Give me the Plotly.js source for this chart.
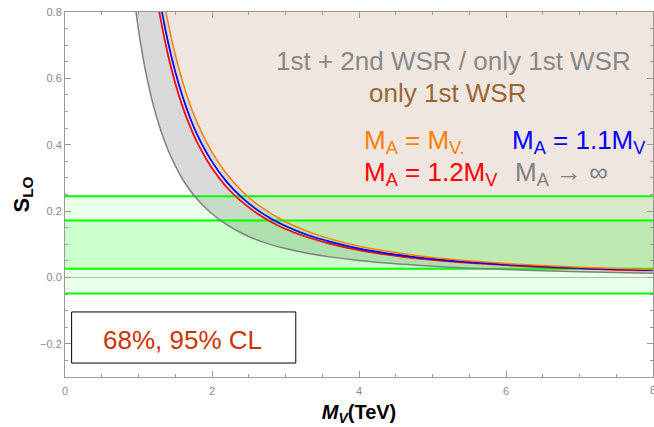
<!DOCTYPE html>
<html>
<head>
<meta charset="utf-8">
<script src="https://cdn.plot.ly/plotly-3.0.1.min.js"></script>
<style>html,body{margin:0;padding:0;background:#fff;}#chart{width:654px;height:427px;}</style>
</head>
<body>
<div id="chart"></div>
<script>
// M_V values (TeV)
const mv = [0.95, 1.0, 1.05, 1.1, 1.2, 1.3, 1.4, 1.5, 1.6, 1.7, 1.8, 2.0, 2.2, 2.4, 2.6, 2.8, 3.0, 3.3, 3.6, 4.0, 4.5, 5.0, 5.5, 6.0, 6.5, 7.0, 7.5, 8.0];
// S_LO bounds
const sInf  = [0.827, 0.746, 0.677, 0.617, 0.520, 0.445, 0.385, 0.337, 0.296, 0.263, 0.236, 0.192, 0.159, 0.134, 0.114, 0.099, 0.087, 0.073, 0.062, 0.051, 0.041, 0.034, 0.028, 0.024, 0.020, 0.017, 0.015, 0.013];
const s12   = [1.459, 1.317, 1.195, 1.088, 0.915, 0.779, 0.672, 0.585, 0.514, 0.456, 0.406, 0.329, 0.272, 0.229, 0.195, 0.168, 0.146, 0.121, 0.102, 0.082, 0.065, 0.053, 0.044, 0.037, 0.031, 0.027, 0.023, 0.021];
const s11   = [1.545, 1.394, 1.264, 1.152, 0.968, 0.825, 0.711, 0.620, 0.545, 0.482, 0.430, 0.349, 0.288, 0.242, 0.206, 0.178, 0.155, 0.128, 0.108, 0.087, 0.069, 0.056, 0.046, 0.039, 0.033, 0.028, 0.025, 0.022];
const s10   = [1.673, 1.510, 1.370, 1.248, 1.049, 0.893, 0.770, 0.671, 0.590, 0.522, 0.466, 0.378, 0.312, 0.262, 0.223, 0.193, 0.168, 0.139, 0.117, 0.094, 0.075, 0.060, 0.050, 0.042, 0.036, 0.031, 0.027, 0.024];
// experimental S bands: 95% CL and 68% CL
const band95 = [-0.048, 0.245];
const band68 = [0.026, 0.172];
const xRange = [0, 8];
const yRange = [-0.3, 0.8];
const xTickVals = [0, 2, 4, 6, 8];

const traces = [];
// beige region: above M_A = M_V curve
traces.push({x: mv.concat([8, 8, 0.95]), y: s10.concat([1.0, 1.0, 1.0]), fill: 'toself', mode: 'none',
  fillcolor: '#efe6e0', hoverinfo: 'skip'});
// gray region: between M_A -> inf and M_A = M_V
traces.push({x: mv.concat(mv.slice().reverse()), y: sInf.concat(s10.slice().reverse()), fill: 'toself', mode: 'none',
  fillcolor: '#d9d9d9', hoverinfo: 'skip'});
// green bands (translucent)
traces.push({x: [0, 8, 8, 0], y: [band95[0], band95[0], band95[1], band95[1]], fill: 'toself', mode: 'none',
  fillcolor: 'rgba(0,255,0,0.09)', hoverinfo: 'skip'});
traces.push({x: [0, 8, 8, 0], y: [band68[0], band68[0], band68[1], band68[1]], fill: 'toself', mode: 'none',
  fillcolor: 'rgba(0,255,0,0.12)', hoverinfo: 'skip'});
// band edges
[band95[0], band95[1], band68[0], band68[1]].forEach(v => {
  traces.push({x: xRange, y: [v, v], mode: 'lines', line: {color: '#00ff00', width: 2}, hoverinfo: 'skip'});
});
// curves
traces.push({x: mv, y: sInf, mode: 'lines', line: {color: '#808080', width: 1.5, shape: 'spline'}});
traces.push({x: mv, y: s12, mode: 'lines', line: {color: '#ff0000', width: 1.7, shape: 'spline'}});
traces.push({x: mv, y: s11, mode: 'lines', line: {color: '#0000ff', width: 1.7, shape: 'spline'}});
traces.push({x: mv, y: s10, mode: 'lines', line: {color: '#ff8000', width: 1.5, shape: 'spline'}});

const F = 'Liberation Sans, Arial, sans-serif';
const ann = (text, x, y, color, xanchor) => ({text, x, y, xref: 'x', yref: 'y', showarrow: false,
  xanchor: xanchor || 'center', yanchor: 'middle', font: {family: F, size: 26, color}});

const annotations = [
  ann('1st + 2nd WSR / only 1st WSR', 5.28, 0.652, '#888888'),
  ann('only 1st WSR', 5.21, 0.555, '#996633'),
  ann('M<sub>A</sub> = M<sub>V.</sub>', 4.04, 0.411, '#ff8000', 'left'),
  ann('M<sub>A</sub> = 1.1M<sub>V</sub>', 6.06, 0.411, '#0000ff', 'left'),
  ann('M<sub>A</sub> = 1.2M<sub>V</sub>', 4.04, 0.3125, '#ff0000', 'left'),
  ann('M<sub>A</sub> \u2192 \u221e', 6.1, 0.3125, '#808080', 'left'),
  ann('68%, 95% CL', 1.6, -0.187, '#cc3300')
];
// last x tick label, cut by the page edge as in the reference
annotations.push({text: String(xTickVals[4]), x: xTickVals[4], y: 0, xref: 'x', yref: 'paper', yshift: -13,
  showarrow: false, xanchor: 'center', yanchor: 'middle', font: {family: F, size: 11, color: '#888'}});

const layout = {
  width: 654, height: 427,
  margin: {l: 65, r: 1, t: 12, b: 50},
  paper_bgcolor: '#fff', plot_bgcolor: '#fff',
  showlegend: false,
  font: {family: F},
  xaxis: {range: xRange, tickvals: xTickVals.slice(0, 4), ticks: 'inside', ticklen: 6, tickcolor: '#999',
    showline: true, linecolor: '#999', mirror: 'ticks', showgrid: false, zeroline: false,
    tickfont: {size: 11, color: '#888'}, ticklabelstandoff: 4,
    minor: {dtick: 0.5, tick0: 0, ticks: 'inside', ticklen: 3, tickcolor: '#999', showgrid: false},
    title: {text: '<b><i>M</i><sub><i>V</i></sub>(TeV)</b>', font: {size: 20, color: '#000'}, standoff: 8}},
  yaxis: {range: yRange, dtick: 0.2, tick0: 0, ticks: 'inside', ticklen: 6, tickcolor: '#999',
    showline: true, linecolor: '#999', mirror: 'ticks', showgrid: false,
    zeroline: true, zerolinecolor: '#bbb', zerolinewidth: 1,
    tickformat: '.1f',
    tickfont: {size: 11, color: '#888'},
    minor: {dtick: 0.05, ticks: 'inside', ticklen: 3, tickcolor: '#999', showgrid: false},
    title: {text: '<b>S<sub>LO</sub></b>', font: {size: 22, color: '#000'}, standoff: 4}},
  shapes: [{type: 'rect', xref: 'x', yref: 'y', x0: 0.09, x1: 3.14, y0: -0.104, y1: -0.258,
    line: {color: '#000', width: 1}, fillcolor: 'rgba(0,0,0,0)'}],
  annotations: annotations
};
Plotly.newPlot('chart', traces, layout, {displayModeBar: false, staticPlot: true});
</script>
</body>
</html>
